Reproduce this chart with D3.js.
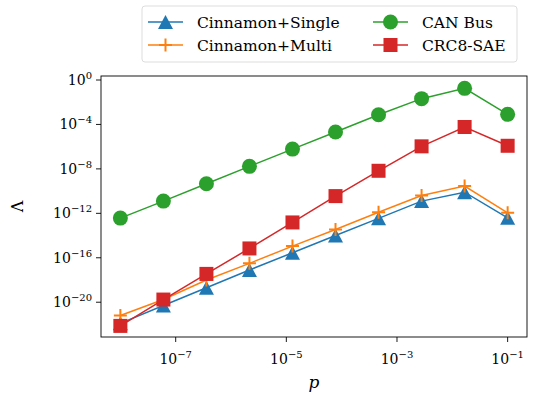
<!DOCTYPE html>
<html>
<head>
<meta charset="utf-8">
<script src="https://cdn.jsdelivr.net/npm/d3@7"></script>
<style>
body { margin:0; background:#fff; }
svg { font-family: "DejaVu Serif", serif; }
</style>
</head>
<body>
<svg id="chart" width="536" height="395"></svg>
<script>
// x values: logspace(-8,-1,10)
var pValues = d3.range(10).map(function(i){ return Math.pow(10, -8 + 7*i/9); });

// log10 of each series
var singleLog = [-21.9, -20.3, -18.7, -17.1, -15.55, -14.0, -12.45, -10.9, -10.1, -12.4];
var multiLog  = [-21.2, -19.75, -18.0, -16.5, -14.95, -13.45, -11.9, -10.4, -9.55, -11.95];
var canLog    = [-12.43, -10.9, -9.34, -7.77, -6.22, -4.68, -3.13, -1.68, -0.75, -3.09];
var crcLog    = [-22.13, -19.76, -17.45, -15.16, -12.82, -10.45, -8.17, -5.97, -4.23, -5.92];

var xTicks = [-7, -5, -3, -1];
var yTicks = [0, -4, -8, -12, -16, -20];

var seriesNames = ["Cinnamon+Single", "Cinnamon+Multi", "CAN Bus", "CRC8-SAE"];
var seriesColors = ["#1f77b4", "#ff7f0e", "#2ca02c", "#d62728"];
var seriesMarkers = ["triangle", "plus", "circle", "square"];
var seriesData = [singleLog, multiLog, canLog, crcLog];

drawChart("chart");

function drawChart(id) {
    var svg = d3.select("#" + id);
    svg.selectAll("*").remove();

    var left = 101, right = 527, top = 76, bottom = 337;

    var x = d3.scaleLog().domain([Math.pow(10,-8.35), Math.pow(10,-0.65)]).range([left, right]);
    var y = d3.scaleLog().domain([Math.pow(10,-23.13), Math.pow(10,0.36)]).range([bottom, top]);

    var main = svg.append('g').attr('class','main');

    // lines + markers
    seriesData.forEach(function(vals, si){
        var pts = vals.map(function(v,i){ return [x(pValues[i]), y(Math.pow(10, v))]; });
        var line = d3.line();
        main.append('path')
            .attr('d', line(pts))
            .attr('fill','none')
            .attr('stroke', seriesColors[si])
            .attr('stroke-width', 1.5);
        pts.forEach(function(p){
            drawMarker(main, seriesMarkers[si], p[0], p[1], seriesColors[si]);
        });
    });

    // frame
    main.append('rect')
        .attr('x', left).attr('y', top)
        .attr('width', right-left).attr('height', bottom-top)
        .attr('fill','none').attr('stroke','#000').attr('stroke-width',0.9);

    // x ticks
    xTicks.forEach(function(e){
        var px = x(Math.pow(10,e));
        main.append('line').attr('x1',px).attr('x2',px).attr('y1',bottom).attr('y2',bottom+5)
            .attr('stroke','#000').attr('stroke-width',0.9);
        var t = main.append('text').attr('x',px).attr('y',bottom+27)
            .attr('text-anchor','middle').attr('font-size',14);
        t.append('tspan').text('10');
        t.append('tspan').attr('dy',-6).attr('font-size',10).text('\u2212' + Math.abs(e));
    });

    // y ticks
    yTicks.forEach(function(e){
        var py = y(Math.pow(10,e));
        main.append('line').attr('x1',left-5).attr('x2',left).attr('y1',py).attr('y2',py)
            .attr('stroke','#000').attr('stroke-width',0.9);
        var t = main.append('text').attr('x',left-9).attr('y',py+5)
            .attr('text-anchor','end').attr('font-size',14);
        t.append('tspan').text('10');
        t.append('tspan').attr('dy',-6).attr('font-size',10).text(e === 0 ? '0' : '\u2212' + Math.abs(e));
    });

    // axis labels
    main.append('text').attr('x', (left+right)/2).attr('y', 388)
        .attr('text-anchor','middle').attr('font-size',17).attr('font-style','italic').text('p');
    main.append('text').attr('transform','translate(23,' + ((top+bottom)/2) + ') rotate(-90)')
        .attr('text-anchor','middle').attr('font-size',16).text('\u039b');

    // legend
    var leg = svg.append('g').attr('class','legend');
    leg.append('rect').attr('x',142).attr('y',6).attr('width',375).attr('height',56)
        .attr('rx',3).attr('fill','#fff').attr('stroke','#ddd').attr('stroke-width',1);
    var cols = [148, 373];
    var rows = [22, 45];
    seriesNames.forEach(function(name, si){
        var cx = cols[Math.floor(si/2)], cy = rows[si%2];
        leg.append('line').attr('x1',cx).attr('x2',cx+35).attr('y1',cy).attr('y2',cy)
            .attr('stroke',seriesColors[si]).attr('stroke-width',1.5);
        drawMarker(leg, seriesMarkers[si], cx+17.5, cy, seriesColors[si]);
        leg.append('text').attr('x',cx+49).attr('y',cy+5.5).attr('font-size',15.5).text(name);
    });

    function drawMarker(g, type, cx, cy, color) {
        if (type === 'circle') {
            g.append('circle').attr('cx',cx).attr('cy',cy).attr('r',7.5).attr('fill',color);
        } else if (type === 'square') {
            g.append('rect').attr('x',cx-7).attr('y',cy-7).attr('width',14).attr('height',14).attr('fill',color);
        } else if (type === 'triangle') {
            var w = 7.5, h = 7;
            g.append('path').attr('d','M'+cx+','+(cy-h)+'L'+(cx+w)+','+(cy+h)+'L'+(cx-w)+','+(cy+h)+'Z')
                .attr('fill',color);
        } else if (type === 'plus') {
            var s = 6.5;
            g.append('path').attr('d','M'+(cx-s)+','+cy+'H'+(cx+s)+'M'+cx+','+(cy-s)+'V'+(cy+s))
                .attr('stroke',color).attr('stroke-width',2).attr('fill','none');
        }
    }
}
</script>
</body>
</html>
